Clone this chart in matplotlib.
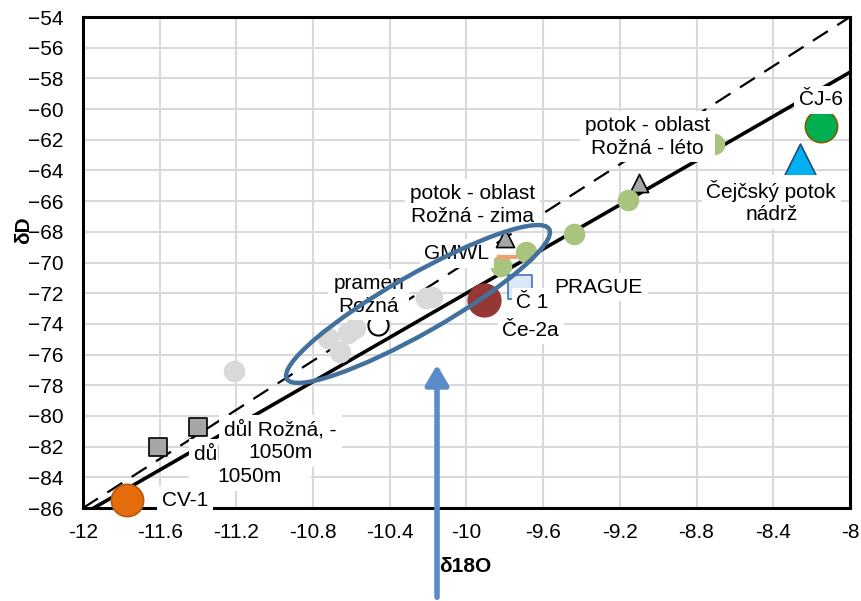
import numpy as np
import matplotlib
matplotlib.use("Agg")
import matplotlib.pyplot as plt
from matplotlib.patches import Ellipse, FancyArrowPatch

plt.rcParams['font.family'] = ['Liberation Sans', 'DejaVu Sans']

# data (d18O, dD)
cv1_x, cv1_y = [-11.77], [-85.5]
mine_x, mine_y = [-11.61, -11.40], [-82.0, -80.7]
spring_x = [-11.21, -10.72, -10.66, -10.62, -10.58, -10.21, -10.18]
spring_y = [-77.1, -74.9, -75.8, -74.6, -74.3, -72.3, -72.25]
spring2_x, spring2_y = [-10.46], [-74.1]
stream_x = [-9.82, -9.69, -9.44, -9.16, -8.71]
stream_y = [-70.2, -69.3, -68.15, -65.9, -62.3]
tri_x, tri_y = [-9.80, -9.10], [-68.4, -64.8]
dash_x, dash_y = [-9.79], [-69.65]
c1_x, c1_y = [-9.91], [-72.45]
ce2a_x, ce2a_y = [-9.72], [-71.6]
cj6_x, cj6_y = [-8.15], [-61.1]
cejc_x, cejc_y = [-8.26], [-63.3]

# water lines
gmwl_x = np.array([-12.0, -8.0])
gmwl_y = 8 * gmwl_x + 10
prague_x = np.array([-12.0, -8.0])
prague_y = 7.2 * prague_x

fig = plt.figure(figsize=(8.62, 6.01), dpi=100)
ax = fig.add_axes([0.0963, 0.1547, 0.8897, 0.817])

ax.plot(gmwl_x, gmwl_y, color='black', lw=1.6, ls=(0, (8, 5)), zorder=2)
ax.plot(prague_x, prague_y, color='black', lw=2.6, zorder=2)

ax.scatter(spring_x, spring_y, s=210, color='#D9D9D9', zorder=3)
ax.scatter(spring2_x, spring2_y, s=210, color='white', edgecolor='black', lw=1.5, zorder=3)
ax.scatter(mine_x, mine_y, s=170, marker='s', color='#A6A6A6', edgecolor='black', lw=1.2, zorder=3)
ax.scatter(tri_x, tri_y, s=170, marker='^', color='#A6A6A6', edgecolor='black', lw=1.2, zorder=3)
ax.scatter(stream_x, stream_y, s=210, color='#A9C47F', zorder=3)
ax.scatter(dash_x, dash_y, s=200, marker='_', color='#F4A06A', lw=3, zorder=3)
ax.scatter(ce2a_x, ce2a_y, s=300, marker='s', color='#DAE7F5', edgecolor='#4472C4', lw=1.2, zorder=3)
ax.scatter(cv1_x, cv1_y, s=540, color='#E46C0A', edgecolor='#B35A14', lw=1.2, zorder=4, clip_on=False)
ax.scatter(c1_x, c1_y, s=560, color='#953735', zorder=4)
ax.scatter(cj6_x, cj6_y, s=540, color='#00B050', edgecolor='#7F6000', lw=1.2, zorder=4)
ax.scatter(cejc_x, cejc_y, s=560, marker='^', color='#00B0F0', edgecolor='#1F4E79', lw=1.2, zorder=4)

box = dict(facecolor='white', edgecolor='none', pad=3.5)
fs = 15
labels = [
    (-8.15, -59.4, 'ČJ-6'),
    (-8.41, -66.05, 'Čejčský potok\nnádrž'),
    (-9.055, -61.8, 'potok - oblast\nRožná - léto'),
    (-9.97, -66.25, 'potok - oblast\nRožná - zima'),
    (-10.05, -69.4, 'GMWL'),
    (-9.31, -71.6, 'PRAGUE'),
    (-9.655, -72.6, 'Č 1'),
    (-9.665, -74.4, 'Če-2a'),
    (-10.51, -72.1, 'pramen\nRožná'),
    (-11.13, -83.2, 'důl Rožná, -\n1050m'),
    (-10.97, -81.65, 'důl Rožná, -\n1050m'),
    (-11.47, -85.5, 'CV-1'),
]
for lx, ly, txt in labels:
    ax.text(lx, ly, txt, ha='center', va='center', fontsize=fs, bbox=box,
            linespacing=1.25, zorder=5)

ax.set_xlim(-12, -8)
ax.set_ylim(-86, -54)
ax.set_xticks(np.arange(-12, -7.9, 0.4))
ax.set_xticklabels(['-12', '-11.6', '-11.2', '-10.8', '-10.4', '-10', '-9.6',
                    '-9.2', '-8.8', '-8.4', '-8'])
ax.set_yticks(np.arange(-86, -53, 2))
ax.tick_params(labelsize=15, length=0)
ax.tick_params(axis='x', pad=11)
ax.tick_params(axis='y', pad=14)
ax.grid(True, color='#D9D9D9', lw=1.5)
ax.set_axisbelow(True)
for sp in ax.spines.values():
    sp.set_linewidth(2.2)
    sp.set_color('black')

fig.text(465 / 862, 1 - 566 / 601, 'δ18O', ha='center', va='center',
         fontsize=15, fontweight='bold')
fig.text(24 / 862, 1 - 230 / 601, 'δD', ha='center', va='center',
         fontsize=15, fontweight='bold', rotation=90)

# highlight ellipse and arrow (pixel positions)
ell = Ellipse((418, 601 - 304), 302, 58, angle=29.7, fill=False,
              edgecolor='#41719C', lw=3.2, transform=None, zorder=6)
fig.patches.append(ell)
arr = FancyArrowPatch((437, 601 - 600), (437, 601 - 362), transform=None,
                      arrowstyle='-|>,head_length=12,head_width=7',
                      color='#5B8BC9', lw=4, zorder=6)
fig.patches.append(arr)

fig.savefig('out.png', dpi=100)
